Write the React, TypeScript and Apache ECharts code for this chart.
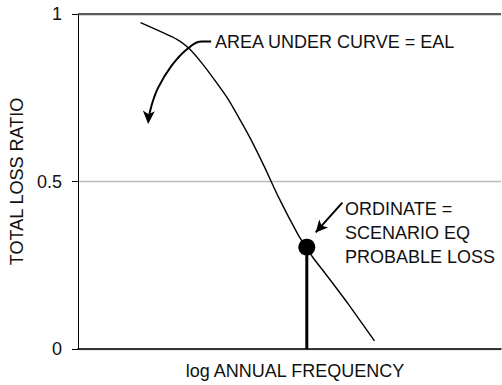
import React, { useEffect, useRef } from "react";
import * as echarts from "echarts";

// Loss curve (x = position on log annual frequency axis, 0..100 arbitrary units)
const curveX = [14.8, 23.3, 26.1, 29.2, 32.2, 35.5, 38.6, 40.9, 44.0, 47.5, 52.0, 53.9, 55.5, 59.1, 63.8, 70.1];
const curveY = [0.974, 0.925, 0.899, 0.855, 0.805, 0.746, 0.678, 0.625, 0.546, 0.451, 0.342, 0.304, 0.274, 0.215, 0.136, 0.024];

// Scenario point
const scenarioX = 54.1;
const scenarioY = 0.304;

// Curved annotation arrow (area under curve)
const eArrowX = [31.5, 29.2, 25.7, 22.1, 19.0, 17.4, 16.6];
const eArrowY = [0.918, 0.918, 0.894, 0.845, 0.781, 0.727, 0.681];
const eArrowHead = [16.6, 0.672];

// Straight annotation arrow (ordinate)
const oArrowFrom = [62.5, 0.437];
const oArrowTo = [56.2, 0.348];

const yTicks = { min: 0, max: 1, interval: 0.5 };
const xRange = { min: 0, max: 100 };

const FONT = "Liberation Sans, Arial, sans-serif";
const TEXT = "#111";

export default function App() {
  const ref = useRef<HTMLDivElement>(null);
  useEffect(() => {
    document.body.style.margin = "0";
    const chart = echarts.init(ref.current!, null, { renderer: "svg" });
    const curve = curveX.map((x, i) => [x, curveY[i]]);
    const eArrow = eArrowX.map((x, i) => [x, eArrowY[i]]);
    chart.setOption({
      animation: false,
      backgroundColor: "#fff",
      textStyle: { fontFamily: FONT, color: TEXT },
      grid: { left: 76, right: 1, top: 14, bottom: 32 },
      xAxis: {
        type: "value",
        min: xRange.min,
        max: xRange.max,
        axisLine: { show: true, lineStyle: { color: "#000", width: 1.5 } },
        axisTick: { show: false },
        axisLabel: { show: false },
        splitLine: { show: false },
        name: "log ANNUAL FREQUENCY",
        nameLocation: "middle",
        nameGap: 13,
        nameTextStyle: { fontSize: 18, color: TEXT, fontFamily: FONT, padding: [0, 0, 0, 11] },
      },
      yAxis: {
        type: "value",
        min: yTicks.min,
        max: yTicks.max,
        interval: yTicks.interval,
        axisLine: { show: true, lineStyle: { color: "#000", width: 1 } },
        axisTick: { show: true, length: 6, lineStyle: { color: "#000" } },
        axisLabel: { fontSize: 18, color: TEXT, fontFamily: FONT, margin: 16 },
        splitLine: { show: true, lineStyle: { color: ["#bbb", "#bbb", "#5a5a5a"], width: 1.3 } },
        name: "TOTAL LOSS RATIO",
        nameLocation: "middle",
        nameGap: 42,
        nameTextStyle: { fontSize: 18, color: TEXT, fontFamily: FONT, padding: [8, 0, 0, 0] },
      },
      series: [
        {
          type: "line",
          data: curve,
          smooth: 0.2,
          symbol: "none",
          lineStyle: { color: "#000", width: 1.4 },
          markLine: {
            silent: true,
            symbol: "none",
            label: { show: false },
            lineStyle: { color: "#5a5a5a", width: 2, type: "solid" },
            data: [{ yAxis: yTicks.max }],
          },
        },
        {
          type: "line",
          data: [
            [scenarioX, 0],
            [scenarioX, scenarioY],
          ],
          symbol: "none",
          lineStyle: { color: "#000", width: 3 },
          markLine: {
            silent: true,
            symbol: ["none", "arrow"],
            symbolSize: [9, 12],
            label: { show: false },
            lineStyle: { color: "#000", width: 2, type: "solid" },
            data: [[{ coord: oArrowFrom }, { coord: oArrowTo }]],
          },
        },
        {
          type: "scatter",
          data: [[scenarioX, scenarioY]],
          symbol: "circle",
          symbolSize: 17,
          itemStyle: { color: "#000", opacity: 1 },
          z: 5,
        },
        {
          type: "line",
          data: eArrow,
          smooth: 0.4,
          symbol: "none",
          lineStyle: { color: "#000", width: 2 },
        },
        {
          type: "scatter",
          data: [eArrowHead],
          symbol: "arrow",
          symbolSize: [9, 13],
          symbolRotate: 177,
          itemStyle: { color: "#000", opacity: 1 },
        },
      ],
      graphic: [
        {
          type: "text",
          left: 215,
          top: 33,
          style: { text: "AREA UNDER CURVE = EAL", fontSize: 18, fill: TEXT, fontFamily: FONT },
        },
        {
          type: "text",
          left: 345,
          top: 197,
          style: {
            text: "ORDINATE =\nSCENARIO EQ\nPROBABLE LOSS",
            fontSize: 18,
            lineHeight: 24,
            fill: TEXT,
            fontFamily: FONT,
          },
        },
      ],
    });
    return () => chart.dispose();
  }, []);
  return <div ref={ref} style={{ width: 502, height: 385 }} />;
}
